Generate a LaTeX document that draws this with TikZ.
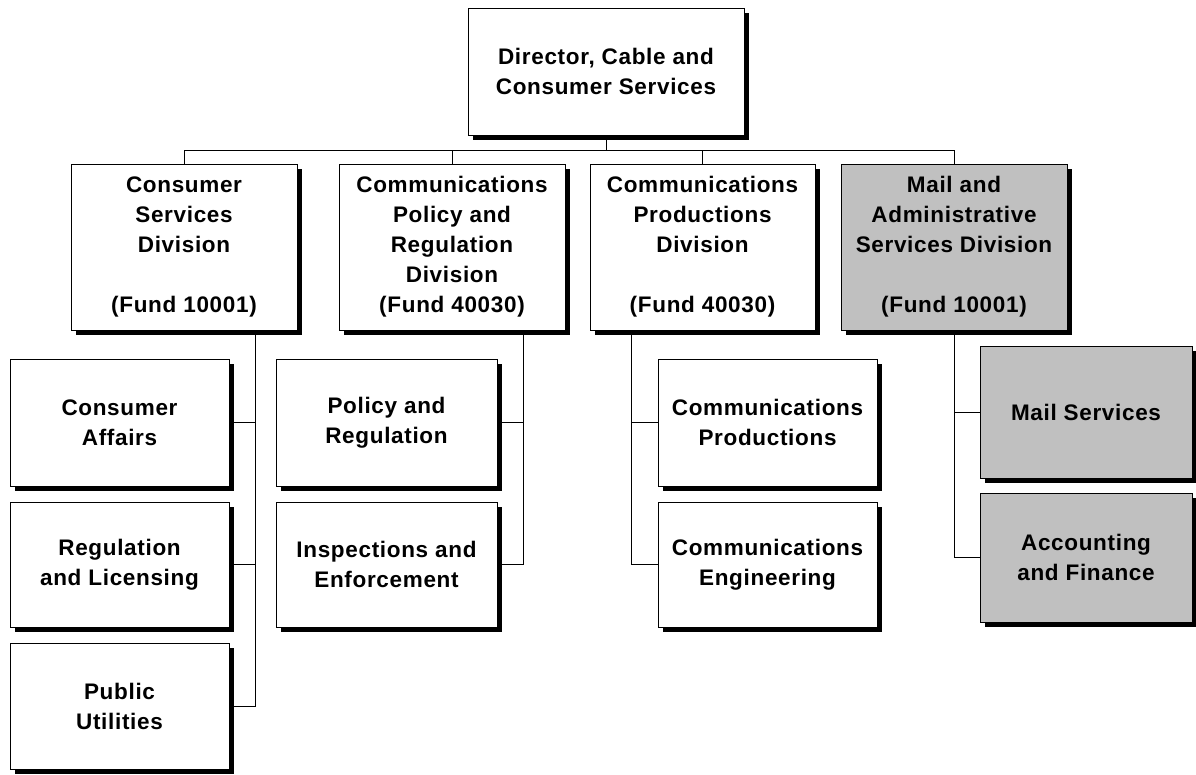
\documentclass[tikz,border=0pt]{standalone}
\usepackage{fontspec}
\setmainfont{Liberation Sans}[LetterSpace=3]
\usetikzlibrary{shadows}
\definecolor{boxgray}{HTML}{C0C0C0}
\tikzset{
  orgbox/.style={draw=black, line width=0.9pt, fill=white, align=center,
    inner sep=0pt, font=\fontsize{22.5}{30}\selectfont\bfseries,
    drop shadow={shadow xshift=4.5pt, shadow yshift=-4.5pt, fill=black, opacity=1}},
  graybox/.style={orgbox, fill=boxgray},
  link/.style={draw=black, line width=0.9pt}
}
\begin{document}
\begin{tikzpicture}[x=1pt,y=-1pt]
\useasboundingbox (0,0) rectangle (1196,774);
% coordinates
\coordinate (bus) at (0,150);
\coordinate (v1) at (255,330);
\coordinate (v2) at (523,330);
\coordinate (v3) at (631,330);
\coordinate (v4) at (954,330);
% connectors (drawn first, behind boxes)
\begin{scope}[on background layer/.style={}]
\end{scope}
% nodes
\node[orgbox, minimum width=276pt, minimum height=127pt] (top) at (606,71.5)
  {Director, Cable and\\Consumer Services};
\node[orgbox, minimum width=226pt, minimum height=166pt] (d1) at (184,247)
  {Consumer\\Services\\Division\\[30pt](Fund 10001)};
\node[orgbox, minimum width=226pt, minimum height=166pt] (d2) at (452,247)
  {Communications\\Policy and\\Regulation\\Division\\(Fund 40030)};
\node[orgbox, minimum width=225pt, minimum height=166pt] (d3) at (702.5,247)
  {Communications\\Productions\\Division\\[30pt](Fund 40030)};
\node[graybox, minimum width=226pt, minimum height=166pt] (d4) at (954,247)
  {Mail and\\Administrative\\Services Division\\[30pt](Fund 10001)};
% children column 1
\node[orgbox, minimum width=219pt, minimum height=127pt] (c11) at (119.5,422.5)
  {Consumer\\Affairs};
\node[orgbox, minimum width=219pt, minimum height=125pt] (c12) at (119.5,564.5)
  {Regulation\\and Licensing};
\node[orgbox, minimum width=219pt, minimum height=126pt] (c13) at (119.5,706)
  {Public\\Utilities};
% column 2
\node[orgbox, minimum width=221pt, minimum height=127pt] (c21) at (386.5,422.5)
  {Policy and\\Regulation};
\node[orgbox, minimum width=221pt, minimum height=125pt] (c22) at (386.5,564.5)
  {Inspections and\\Enforcement};
% column 3
\node[orgbox, minimum width=219pt, minimum height=127pt] (c31) at (767.5,422.5)
  {Communications\\Productions};
\node[orgbox, minimum width=219pt, minimum height=125pt] (c32) at (767.5,564.5)
  {Communications\\Engineering};
% column 4
\node[graybox, minimum width=212pt, minimum height=132pt] (c41) at (1086,412)
  {Mail Services};
\node[graybox, minimum width=212pt, minimum height=129pt] (c42) at (1086,557.5)
  {Accounting\\and Finance};
% connectors
\path[link] (top.south) -- (top.south |- bus);
\path[link] (d1.north) -- (d1.north |- bus) -- (d4.north |- bus) -- (d4.north);
\path[link] (d2.north) -- (d2.north |- bus);
\path[link] (d3.north) -- (d3.north |- bus);
\path[link] (c11.east) -| (v1);
\path[link] (c12.east) -| (v1);
\path[link] (c13.east) -| (v1);
\path[link] (c21.east) -| (v2);
\path[link] (c22.east) -| (v2);
\path[link] (c31.west) -| (v3);
\path[link] (c32.west) -| (v3);
\path[link] (c41.west) -| (v4);
\path[link] (c42.west) -| (v4);
\end{tikzpicture}
\end{document}
